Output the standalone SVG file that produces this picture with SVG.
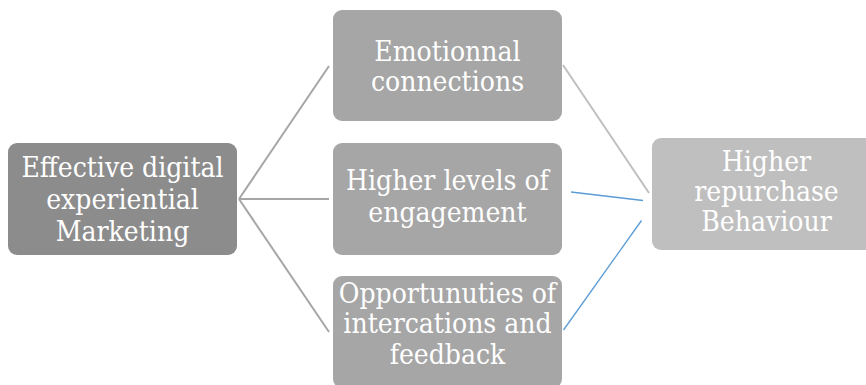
<svg xmlns="http://www.w3.org/2000/svg" width="866" height="385" viewBox="0 0 866 385">
  <style>
    text { font-family: "DejaVu Serif Condensed", "DejaVu Serif", serif; font-size: 28px; fill: #ffffff; text-anchor: middle; }
    .src { fill: #8c8c8c; }
    .mid { fill: #a6a6a6; }
    .dst { fill: #bfbfbf; }
    .gray { stroke: #a6a6a6; stroke-width: 2; fill: none; }
    .gray2 { stroke: #bfbfbf; stroke-width: 2; fill: none; }
    .blue { stroke: #5b9bd5; stroke-width: 1.3; fill: none; }
  </style>
  <rect width="866" height="385" fill="#ffffff"/>

  <!-- links between the boxes -->
  <g id="connectors">
    <line class="gray" x1="239" y1="199" x2="329" y2="66"/>
    <line class="gray" x1="239" y1="199" x2="329" y2="199"/>
    <line class="gray" x1="239" y1="199" x2="329" y2="332"/>
    <line class="gray2" x1="563" y1="65" x2="649" y2="193"/>
    <line class="blue" x1="571" y1="192" x2="643" y2="200.5"/>
    <line class="blue" x1="563.5" y1="330" x2="641.5" y2="220.5"/>
  </g>

  <g id="node-effective">
    <rect class="src" x="8" y="143" width="229" height="112" rx="9"/>
    <text x="122.5" y="176.5">Effective digital</text>
    <text x="122.5" y="208.5">experiential</text>
    <text x="122.5" y="240.5">Marketing</text>
  </g>

  <g id="node-emotional">
    <rect class="mid" x="333" y="10" width="229" height="111" rx="9"/>
    <text x="447.5" y="60.5">Emotionnal</text>
    <text x="447.5" y="91">connections</text>
  </g>

  <g id="node-engagement">
    <rect class="mid" x="333" y="143" width="229" height="112" rx="9"/>
    <text x="447.5" y="190">Higher levels of</text>
    <text x="447.5" y="221.5">engagement</text>
  </g>

  <g id="node-opportunities">
    <rect class="mid" x="333" y="276" width="229" height="112" rx="9"/>
    <text x="447.5" y="302.5">Opportunuties of</text>
    <text x="447.5" y="333">intercations and</text>
    <text x="447.5" y="363.5">feedback</text>
  </g>

  <g id="node-repurchase">
    <rect class="dst" x="652" y="138" width="229" height="112" rx="9"/>
    <text x="766.5" y="171">Higher</text>
    <text x="766.5" y="201">repurchase</text>
    <text x="766.5" y="231">Behaviour</text>
  </g>
</svg>
